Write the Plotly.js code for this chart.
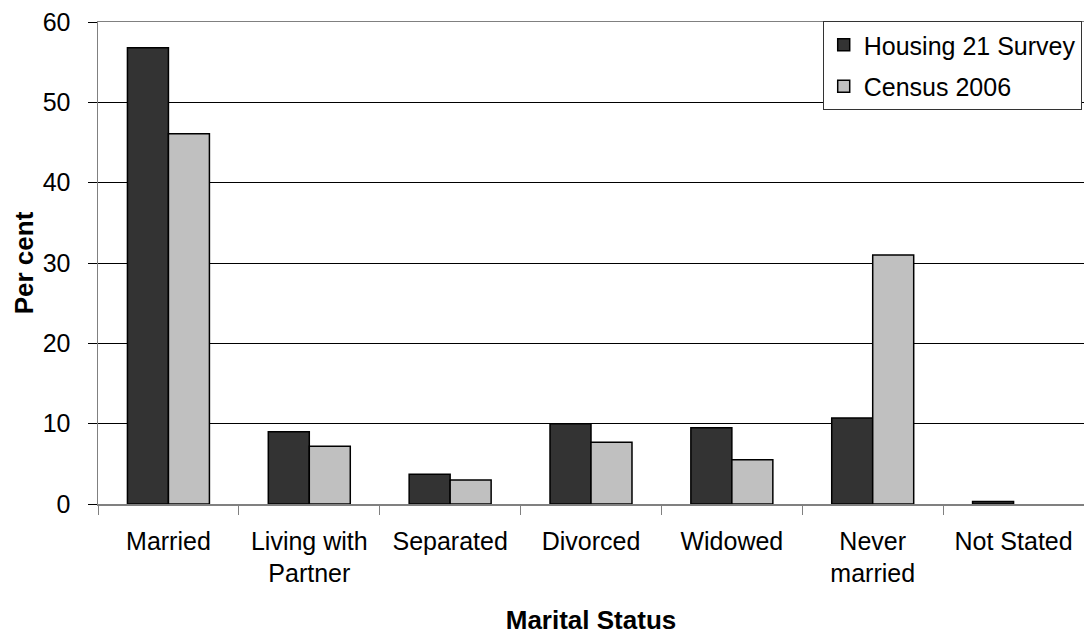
<!DOCTYPE html>
<html>
<head>
<meta charset="utf-8">
<script src="https://cdn.plot.ly/plotly-3.0.1.min.js"></script>
<style>html,body{margin:0;padding:0;background:#fff;}#chart{width:1084px;height:635px;}</style>
</head>
<body>
<div id="chart"></div>
<script>
const categories = ["Married", "Living with<br>Partner", "Separated", "Divorced", "Widowed", "Never<br>married", "Not Stated"];
const housing21 = [56.8, 9.0, 3.7, 10.0, 9.5, 10.7, 0.3];
const census2006 = [46.1, 7.2, 3.0, 7.7, 5.5, 31.0, 0];
const seriesNames = ["Housing 21 Survey", "Census 2006"];
const yTicks = [0, 10, 20, 30, 40, 50, 60];

const font = "Liberation Sans, Arial, sans-serif";
const outline = v => v.map(d => (d > 0 ? 1.5 : 0));
const traces = [
  {type: "bar", name: seriesNames[0], x: categories, y: housing21, legendgroup: "a",
   marker: {color: "#333333", line: {color: "#000", width: outline(housing21)}}},
  {type: "bar", name: seriesNames[1], x: categories, y: census2006, legendgroup: "b",
   marker: {color: "#c0c0c0", line: {color: "#000", width: outline(census2006)}}}
];
const layout = {
  width: 1084, height: 635,
  margin: {l: 98, r: 0, t: 22, b: 131, autoexpand: false},
  paper_bgcolor: "#fff", plot_bgcolor: "#fff",
  font: {family: font, size: 25, color: "#000"},
  barmode: "group", bargap: 0.418, bargroupgap: 0,
  showlegend: true,
  legend: {x: 0.735, xanchor: "left", y: 1.002, yanchor: "top",
           bgcolor: "#fff", bordercolor: "#333", borderwidth: 1,
           font: {family: font, size: 25, color: "#000"},
           traceorder: "grouped", tracegroupgap: 6},
  xaxis: {type: "category", tickson: "boundaries", ticks: "outside", ticklen: 9,
          tickcolor: "#808080", showline: true, linecolor: "#808080", linewidth: 1.5,
          mirror: true, showgrid: false, zeroline: false,
          ticklabelstandoff: 14,
          tickfont: {family: font, size: 25, color: "#000"},
          title: {text: "Marital Status", font: {family: font, size: 26, color: "#000", weight: "bold"}, standoff: 28}},
  yaxis: {range: [0, 60], tickvals: yTicks, ticks: "outside", ticklen: 9, tickcolor: "#000",
          showline: true, linecolor: "#808080", linewidth: 1.5,
          showgrid: true, gridcolor: "#000", gridwidth: 1, zeroline: false,
          ticklabelstandoff: 12,
          tickfont: {family: font, size: 25, color: "#000"},
          title: {text: "Per cent", font: {family: font, size: 26, color: "#000", weight: "bold"}, standoff: 1}}
};
Plotly.newPlot("chart", traces, layout, {staticPlot: true});
</script>
</body>
</html>
